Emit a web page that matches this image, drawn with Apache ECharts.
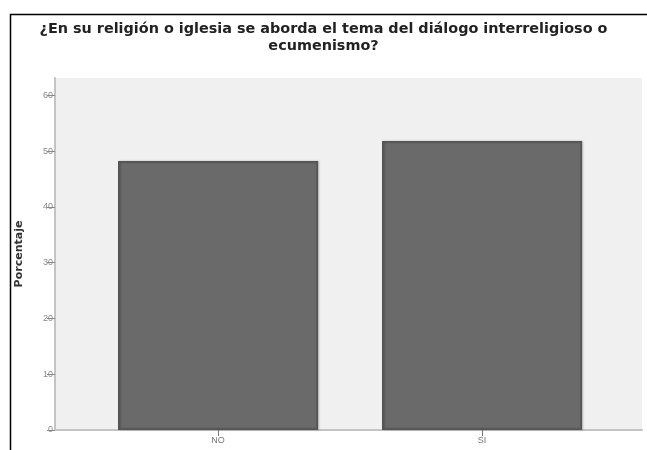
<!DOCTYPE html>
<html>
<head>
<meta charset="utf-8">
<script src="https://cdn.jsdelivr.net/npm/echarts@6/dist/echarts.min.js"></script>
<style>html,body{margin:0;padding:0;background:#fff}#c{width:647px;height:450px}</style>
</head>
<body>
<div id="c"></div>
<script>
const titleText = '¿En su religión o iglesia se aborda el tema del diálogo interreligioso o\necumenismo?';
const categories = ['NO', 'SI'];
const percentages = [48.2, 51.8];
const yTicks = [0, 10, 20, 30, 40, 50, 60];
const yAxisName = 'Porcentaje';
const yMax = 63.1;

const chart = echarts.init(document.getElementById('c'), null, {renderer: 'canvas'});
const font = 'Liberation Sans, Arial, sans-serif';
const boldFont = 'DejaVu Sans, sans-serif';
chart.setOption({
  animation: false,
  backgroundColor: '#fff',
  graphic: [{
    type: 'rect', left: 8, top: 12, z: 100,
    shape: {width: 700, height: 500},
    style: {fill: 'none', stroke: '#000', lineWidth: 1.5}
  }],
  title: {
    text: titleText, left: 'center', top: 16,
    textStyle: {fontFamily: boldFont, fontWeight: 'bold', fontSize: 14.4, color: '#222', lineHeight: 17}
  },
  grid: [
    {left: 55, right: 5, top: 78, bottom: 20, show: true, backgroundColor: '#f0f0f0', borderWidth: 0, containLabel: false},
    {left: 86, right: 33, top: 78, bottom: 20, containLabel: false}
  ],
  xAxis: [
    {gridIndex: 0, type: 'value', min: 0, max: 1,
     axisLine: {show: true, lineStyle: {color: '#c4c4c4', width: 2}},
     axisTick: {show: false}, axisLabel: {show: false}, splitLine: {show: false}},
    {gridIndex: 1, type: 'category', data: categories,
     axisLine: {show: false},
     axisTick: {show: true, alignWithLabel: true, length: 6, lineStyle: {color: '#777'}},
     axisLabel: {fontFamily: font, fontSize: 9, color: '#777', margin: 6},
     splitLine: {show: false}}
  ],
  yAxis: [
    {gridIndex: 0, type: 'value', min: 0, max: yMax,
     name: yAxisName, nameLocation: 'middle', nameGap: 30, nameRotate: 90,
     nameTextStyle: {fontFamily: boldFont, fontWeight: 'bold', fontSize: 11, color: '#333'},
     axisLine: {show: true, lineStyle: {color: '#c4c4c4', width: 2}},
     axisTick: {show: true, length: 8, customValues: yTicks, lineStyle: {color: '#888'}},
     axisLabel: {fontFamily: font, fontSize: 9, color: '#888', margin: 2, customValues: yTicks},
     splitLine: {show: false}},
    {gridIndex: 1, type: 'value', min: 0, max: yMax, show: false}
  ],
  series: [{
    type: 'bar', xAxisIndex: 1, yAxisIndex: 1,
    data: percentages, barWidth: 200,
    itemStyle: {color: '#6a6a6a', borderColor: '#555', borderWidth: 1.5,
      shadowColor: 'rgba(0,0,0,0.25)', shadowBlur: 2, shadowOffsetX: 1}
  }]
});
</script>
</body>
</html>
